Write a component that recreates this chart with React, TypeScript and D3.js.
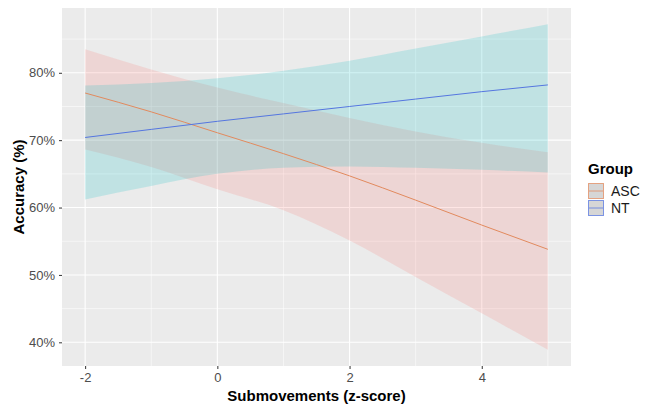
import React, { useEffect, useRef } from 'react';
import * as d3 from 'd3';

// z-score grid the effects were evaluated on
const xValues = [-2, -1, 0, 1, 2, 3, 4, 5];

// ASC group: fitted accuracy (%) and confidence band
const ascFit = [77.0, 74.2, 71.1, 68.0, 64.7, 61.1, 57.4, 53.8];
const ascLower = [68.6, 66.0, 62.7, 59.6, 55.1, 49.7, 44.3, 38.9];
const ascUpper = [83.5, 80.5, 77.8, 75.5, 73.3, 71.3, 69.6, 68.2];

// NT group
const ntFit = [70.4, 71.6, 72.8, 73.9, 75.0, 76.1, 77.2, 78.2];
const ntLower = [61.2, 63.2, 65.0, 65.9, 66.1, 65.9, 65.6, 65.2];
const ntUpper = [78.1, 78.5, 79.2, 80.3, 81.8, 83.6, 85.4, 87.2];

const groups = ['ASC', 'NT'];
const xTicks = [-2, 0, 2, 4];
const xMinor = [-1, 1, 3, 5];
const yTicks = [40, 50, 60, 70, 80];
const yMinor = [45, 55, 65, 75, 85];

const WIDTH = 645;
const HEIGHT = 408;
const PANEL = { left: 62, right: 571, top: 8, bottom: 366 };

const FILL = { ASC: '#F8766D', NT: '#00BFC4' };
const LINE = { ASC: '#E28A5E', NT: '#5576E0' };
const FONT = 'Liberation Sans, Arial, sans-serif';

export default function App() {
  const ref = useRef<SVGSVGElement>(null);

  useEffect(() => {
    if (!ref.current) return;
    const svg = d3.select(ref.current);
    svg.selectAll('*').remove();

    const xExt = d3.extent(xValues) as [number, number];
    const xPad = (xExt[1] - xExt[0]) * 0.05;
    const x = d3
      .scaleLinear()
      .domain([xExt[0] - xPad, xExt[1] + xPad])
      .range([PANEL.left, PANEL.right]);

    const yMin = d3.min([...ascLower, ...ntLower])!;
    const yMax = d3.max([...ascUpper, ...ntUpper])!;
    const yPad = (yMax - yMin) * 0.05;
    const y = d3
      .scaleLinear()
      .domain([yMin - yPad, yMax + yPad])
      .range([PANEL.bottom, PANEL.top]);

    // panel background
    svg
      .append('rect')
      .attr('x', PANEL.left)
      .attr('y', PANEL.top)
      .attr('width', PANEL.right - PANEL.left)
      .attr('height', PANEL.bottom - PANEL.top)
      .attr('fill', '#EBEBEB');

    const grid = svg.append('g');
    const hLines = (vals: number[], w: number) =>
      grid
        .append('g')
        .selectAll('line')
        .data(vals)
        .enter()
        .append('line')
        .attr('x1', PANEL.left)
        .attr('x2', PANEL.right)
        .attr('y1', (d) => y(d))
        .attr('y2', (d) => y(d))
        .attr('stroke', '#fff')
        .attr('stroke-width', w);
    const vLines = (vals: number[], w: number) =>
      grid
        .append('g')
        .selectAll('line')
        .data(vals)
        .enter()
        .append('line')
        .attr('y1', PANEL.top)
        .attr('y2', PANEL.bottom)
        .attr('x1', (d) => x(d))
        .attr('x2', (d) => x(d))
        .attr('stroke', '#fff')
        .attr('stroke-width', w);
    hLines(yMinor, 0.55);
    vLines(xMinor, 0.55);
    hLines(yTicks, 1.1);
    vLines(xTicks, 1.1);

    const series = [
      { name: 'ASC' as const, fit: ascFit, lo: ascLower, hi: ascUpper },
      { name: 'NT' as const, fit: ntFit, lo: ntLower, hi: ntUpper },
    ];

    // confidence ribbons
    series.forEach((s) => {
      const band = d3
        .area<number>()
        .curve(d3.curveMonotoneX)
        .x((_, i) => x(xValues[i]))
        .y0((_, i) => y(s.lo[i]))
        .y1((_, i) => y(s.hi[i]));
      svg
        .append('path')
        .attr('d', band(s.fit)!)
        .attr('fill', FILL[s.name])
        .attr('fill-opacity', 0.18);
    });

    // fitted lines
    series.forEach((s) => {
      const line = d3
        .line<number>()
        .curve(d3.curveMonotoneX)
        .x((_, i) => x(xValues[i]))
        .y((d) => y(d));
      svg
        .append('path')
        .attr('d', line(s.fit)!)
        .attr('fill', 'none')
        .attr('stroke', LINE[s.name])
        .attr('stroke-width', 1);
    });

    // axes
    const xAxis = d3
      .axisBottom(x)
      .tickValues(xTicks)
      .tickSize(3)
      .tickPadding(4)
      .tickFormat((d) => `${d}`);
    const gx = svg
      .append('g')
      .attr('transform', `translate(0, ${PANEL.bottom})`)
      .call(xAxis);
    gx.select('.domain').remove();
    gx.selectAll('.tick line').attr('stroke', '#333333');
    gx.selectAll('.tick text')
      .attr('fill', '#4D4D4D')
      .style('font-family', FONT)
      .style('font-size', '13px');

    const yAxis = d3
      .axisLeft(y)
      .tickValues(yTicks)
      .tickSize(3)
      .tickPadding(4)
      .tickFormat((d) => `${d}%`);
    const gy = svg
      .append('g')
      .attr('transform', `translate(${PANEL.left}, 0)`)
      .call(yAxis);
    gy.select('.domain').remove();
    gy.selectAll('.tick line').attr('stroke', '#333333');
    gy.selectAll('.tick text')
      .attr('fill', '#4D4D4D')
      .style('font-family', FONT)
      .style('font-size', '13px');

    // titles
    svg
      .append('text')
      .attr('x', (PANEL.left + PANEL.right) / 2)
      .attr('y', 401)
      .attr('text-anchor', 'middle')
      .style('font-family', FONT)
      .style('font-size', '15px')
      .style('font-weight', 'bold')
      .text('Submovements (z-score)');

    svg
      .append('text')
      .attr('transform', `translate(24, ${(PANEL.top + PANEL.bottom) / 2}) rotate(-90)`)
      .attr('text-anchor', 'middle')
      .style('font-family', FONT)
      .style('font-size', '15px')
      .style('font-weight', 'bold')
      .text('Accuracy (%)');

    // legend
    const legend = svg.append('g').attr('transform', 'translate(588, 0)');
    legend
      .append('text')
      .attr('x', 0)
      .attr('y', 174)
      .style('font-family', FONT)
      .style('font-size', '15px')
      .style('font-weight', 'bold')
      .text('Group');

    const keys = legend
      .selectAll('.key')
      .data(groups)
      .enter()
      .append('g')
      .attr('transform', (_, i) => `translate(0, ${183 + i * 17})`);
    keys
      .append('rect')
      .attr('x', 0.5)
      .attr('y', 0.5)
      .attr('width', 15)
      .attr('height', 15)
      .attr('fill', '#D6D6D6')
      .attr('stroke', (d) => LINE[d as 'ASC' | 'NT'])
      .attr('stroke-opacity', 0.75);
    keys
      .append('line')
      .attr('x1', 1)
      .attr('x2', 15)
      .attr('y1', 8)
      .attr('y2', 8)
      .attr('stroke', (d) => LINE[d as 'ASC' | 'NT'])
      .attr('stroke-opacity', 0.75);
    keys
      .append('text')
      .attr('x', 23)
      .attr('y', 8)
      .attr('dy', '0.36em')
      .attr('fill', '#1A1A1A')
      .style('font-family', FONT)
      .style('font-size', '14px')
      .text((d) => d);
  }, []);

  return (
    <svg
      ref={ref}
      width={WIDTH}
      height={HEIGHT}
      style={{ position: 'absolute', left: 0, top: 0, background: '#fff' }}
    />
  );
}
